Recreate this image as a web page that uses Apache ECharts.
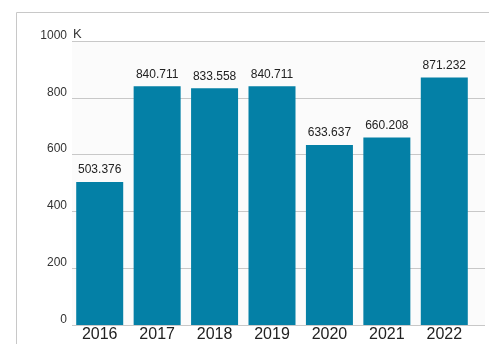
<!DOCTYPE html>
<html>
<head>
<meta charset="utf-8">
<script src="https://cdn.jsdelivr.net/npm/echarts@6/dist/echarts.min.js"></script>
<style>
  html, body { margin: 0; padding: 0; background: #fff; }
  #chart { width: 489px; height: 344px; }
</style>
</head>
<body>
<div id="chart"></div>
<script>
const years = ['2016', '2017', '2018', '2019', '2020', '2021', '2022']
const values = [503.376, 840.711, 833.558, 840.711, 633.637, 660.208, 871.232]
const yTicks = [0, 200, 400, 600, 800, 1000]

const font = 'Arial, "Liberation Sans", sans-serif'
const chart = echarts.init(document.getElementById('chart'))

chart.setOption({
  animation: false,
  graphic: [{
    // frame around the chart
    type: 'rect',
    shape: { x: 16.5, y: 12.5, width: 480, height: 340 },
    style: { fill: null, stroke: '#c8c8c8', lineWidth: 1 },
    silent: true,
  }, {
    // unit marker next to the top tick
    type: 'text',
    left: 73,
    top: 28,
    style: { text: 'K', fill: '#333', font: '13px ' + font },
    silent: true,
  }],
  grid: [
    // gridlines + y labels span the full plot width
    { left: 72, right: 4, top: 41, bottom: 19, show: true, backgroundColor: '#fbfbfb', borderWidth: 0 },
    // bars
    { left: 71, width: 402, top: 41, bottom: 19 },
  ],
  xAxis: [
    { gridIndex: 0, type: 'value', show: false, min: 0, max: 1 },
    {
      gridIndex: 1,
      type: 'category',
      data: years,
      axisLine: { show: false },
      axisTick: { show: false },
      axisLabel: { color: '#222', fontSize: 16, fontFamily: font, margin: 2 },
    },
  ],
  yAxis: [
    {
      gridIndex: 0,
      type: 'value',
      min: 0,
      max: 1000,
      interval: 200,
      axisLine: { show: false },
      axisTick: { show: false },
      axisLabel: {
        color: '#333', fontSize: 12, fontFamily: font, margin: 5,
        verticalAlign: 'bottom', lineHeight: 11,
        formatter: (v) => (yTicks.includes(v) ? String(v) : ''),
      },
      splitLine: { lineStyle: { color: '#c8c8c8', width: 1 } },
    },
    {
      gridIndex: 1,
      type: 'value',
      min: 0,
      max: 1000,
      show: false,
    },
  ],
  series: [{
    type: 'bar',
    xAxisIndex: 1,
    yAxisIndex: 1,
    data: values,
    barWidth: 47,
    itemStyle: { color: '#0480a6' },
    label: {
      show: true,
      position: 'top',
      distance: 6,
      color: '#222',
      fontSize: 12,
      fontFamily: font,
      formatter: (p) => p.value.toFixed(3),
    },
  }],
})
</script>
</body>
</html>
